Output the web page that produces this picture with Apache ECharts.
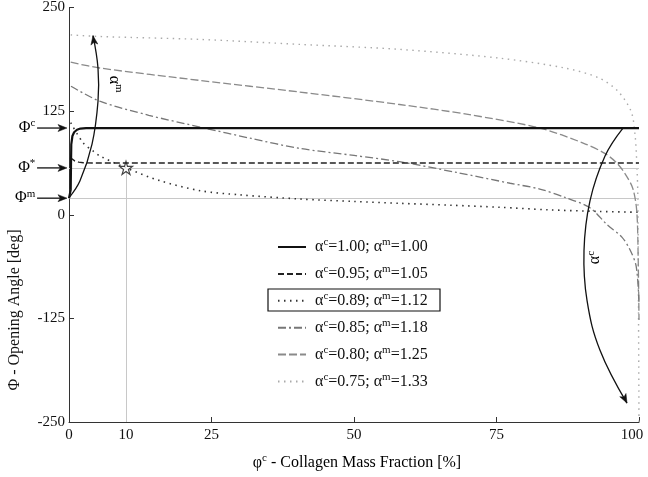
<!DOCTYPE html>
<html><head><meta charset="utf-8">
<script src="https://cdn.jsdelivr.net/npm/echarts@6/dist/echarts.min.js"></script>
<style>html,body{margin:0;padding:0;background:#fff}#c{width:648px;height:477px}</style>
</head><body><div id="c"></div>
<script>
// ---- data ----
const xTicks = [0, 10, 25, 50, 75, 100];
const yTicks = [-250, -125, 0, 125, 250];
const alphaC = ['1.00', '0.95', '0.89', '0.85', '0.80', '0.75'];
const alphaM = ['1.00', '1.05', '1.12', '1.18', '1.25', '1.33'];

const s1x = [0, 0.3, 0.35, 0.4, 0.6, 0.9, 1.4, 2, 3, 5, 100];
const s1y = [20, 30, 60, 85, 95, 99.5, 102.5, 104, 104.6, 104.6, 104.6];

const s2x = [0.2, 0.5, 1, 1.7, 2.5, 4, 100];
const s2y = [69, 67, 65, 63.5, 62.7, 62.5, 62.5];

const s3x = [0.3, 2.5, 4.2, 5.4, 10, 16, 23, 30, 40.5, 50, 58, 67, 75.6, 84, 93, 100];
const s3y = [111, 86.5, 77, 71, 56.5, 41, 29, 24, 19, 16, 13.8, 11.5, 9, 6, 4, 3];

const s4x = [0.35, 5.4, 14, 23.5, 32, 40.5, 50, 58, 68, 77.4, 82.6, 87, 91.4, 94.4, 97, 98.4, 99.5, 100];
const s4y = [155, 137, 120, 105, 92, 80, 71.5, 64, 51, 38, 31, 21, 8.4, -12, -27, -42, -62, -105];

const s5x = [0.3, 5.4, 23, 40.5, 58, 70, 82.6, 90.2, 94, 96.1, 97.5, 98.9, 99.6, 99.85, 100];
const s5y = [184, 177, 162, 148, 133, 121, 104.6, 86.5, 74, 62.5, 50, 32, 5, -50, -127];

const s6x = [0.3, 5.4, 23, 40.5, 58, 75.4, 87, 93, 96.3, 98.6, 99.3, 99.65, 99.8, 99.9, 100];
const s6y = [217, 215, 211.5, 205.5, 199.5, 189, 177, 165, 149, 125, 97, 56, 20, -100, -250];

const phiC = 104.6, phiStar = 56.5, phiM = 20, starX = 10;

// annotation curves (data coordinates)
const arrowMx = [0, 1.93, 4.04, 5.09, 5.09, 4.21];
const arrowMy = [20.4, 40.9, 85.3, 137, 176.7, 216];
const arrowCx = [97.19, 94.04, 91.40, 90.35, 90.88, 93.16, 97.89];
const arrowCy = [104.6, 70.9, 16.8, -43.3, -103.4, -163.5, -227.2];

// ---- chart ----
const FONT = "'Liberation Serif', 'Times New Roman', serif";
const TXT = '#111';
const names = alphaC.map((c, i) => 'αc=' + c + '; αm=' + alphaM[i]);
const zip = (xs, ys) => xs.map((x, i) => [x, ys[i]]);
const styles = [
  {color: '#111', width: 2.2, type: 'solid'},
  {color: '#222', width: 1.4, type: [6, 3]},
  {color: '#333', width: 1.6, type: [1.5, 4.5]},
  {color: '#777', width: 1.3, type: [8, 3, 2, 3]},
  {color: '#8a8a8a', width: 1.3, type: [8, 3]},
  {color: '#aaa', width: 1.4, type: [1.5, 4.5]}
];
const allData = [zip(s1x, s1y), zip(s2x, s2y), zip(s3x, s3y), zip(s4x, s4y), zip(s5x, s5y), zip(s6x, s6y)];

const rich = {
  a: {fontFamily: FONT, fontSize: 16, color: TXT, lineHeight: 20},
  s: {fontFamily: FONT, fontSize: 11, color: TXT, verticalAlign: 'top'}
};

const chart = echarts.init(document.getElementById('c'));
const series = allData.map((d, i) => ({
  name: names[i], type: 'line', data: d, symbol: 'none', smooth: i === 0 || i === 1 ? false : 0.3,
  clip: false, z: 3 + (6 - i),
  lineStyle: {color: styles[i].color, width: styles[i].width, type: styles[i].type, cap: 'butt'},
  itemStyle: {color: styles[i].color}
}));
series.push({
  name: 'ref', type: 'line', data: [], z: 1, silent: true,
  markLine: {
    silent: true, symbol: 'none', label: {show: false},
    lineStyle: {color: '#c8c8c8', width: 1, type: 'solid'},
    data: [
      {yAxis: phiStar}, {yAxis: phiM},
      [{coord: [starX, -250]}, {coord: [starX, phiStar]}]
    ]
  }
});
series.push({
  name: 'star', type: 'scatter', z: 20, data: [[starX, phiStar]],
  symbol: 'path://M50,0 L61,35 L98,35 L68,57 L79,91 L50,70 L21,91 L32,57 L2,35 L39,35 Z',
  symbolSize: 13,
  itemStyle: {color: '#fff', borderColor: '#111', borderWidth: 1.2}
});

chart.setOption({
  backgroundColor: '#fff',
  animation: false,
  grid: {left: 69, right: 9, top: 6, bottom: 55},
  xAxis: {
    type: 'value', min: 0, max: 100,
    axisLine: {onZero: false, lineStyle: {color: '#333', width: 1}},
    axisTick: {inside: true, length: 5, customValues: xTicks, lineStyle: {color: '#333'}},
    axisLabel: {customValues: xTicks, fontFamily: FONT, fontSize: 15, color: TXT, margin: 6,
      formatter: v => v === 100 ? '{r|100}' : String(v),
      rich: {r: {fontFamily: FONT, fontSize: 15, color: TXT, padding: [0, 14, 0, 0]}}},
    splitLine: {show: false}
  },
  yAxis: {
    type: 'value', min: -250, max: 250, interval: 125,
    axisLine: {show: true, onZero: false, lineStyle: {color: '#333', width: 1}},
    axisTick: {show: true, inside: true, length: 5, lineStyle: {color: '#333'}},
    axisLabel: {fontFamily: FONT, fontSize: 15, color: TXT, margin: 4},
    splitLine: {show: false}
  },
  legend: {
    data: names, orient: 'vertical', left: 277, top: 237, padding: 0,
    itemWidth: 28, itemHeight: 14, itemGap: 8.9, selectedMode: false,
    itemStyle: {opacity: 0},
    textStyle: {rich: rich, padding: [0, 0, 0, 4]},
    formatter: name => {
      const i = names.indexOf(name);
      return '{a|α}{s|c}{a|=' + alphaC[i] + '; α}{s|m}{a|=' + alphaM[i] + '}';
    }
  },
  series: series
});

// ---- annotations ----
const P = p => chart.convertToPixel({seriesIndex: 0}, p);
const g = [];
function arrowHead(tip, from, len, hw) {
  const dx = tip[0] - from[0], dy = tip[1] - from[1];
  const L = Math.hypot(dx, dy), ux = dx / L, uy = dy / L;
  const bx = tip[0] - ux * len, by = tip[1] - uy * len;
  const ix = tip[0] - ux * len * 0.75, iy = tip[1] - uy * len * 0.75;
  g.push({type: 'polygon', z: 30, shape: {points: [tip, [bx - uy * hw, by + ux * hw], [ix, iy], [bx + uy * hw, by - ux * hw]]},
    style: {fill: '#111', stroke: '#111', lineWidth: 0.5}});
  return [ix, iy];
}
function curveArrow(xs, ys) {
  const pts = xs.map((x, i) => P([x, ys[i]]));
  const n = pts.length;
  arrowHead(pts[n - 1], pts[n - 2], 9, 3.5);
  g.push({type: 'polyline', z: 29, shape: {points: pts, smooth: 0.4}, style: {stroke: '#111', lineWidth: 1.3, fill: null}});
}
curveArrow(arrowMx, arrowMy);
curveArrow(arrowCx, arrowCy);

// left-side phi markers
[[phiC, 'c'], [phiStar, '*'], [phiM, 'm']].forEach(([v, sup]) => {
  const tip = P([-0.35, v]), tail = P([-5.6, v]);
  const base = arrowHead(tip, tail, 9, 3.5);
  g.push({type: 'line', z: 29, shape: {x1: tail[0], y1: tail[1], x2: base[0], y2: base[1]}, style: {stroke: '#111', lineWidth: 1.3}});
  const tp = P([-5.9, v]);
  g.push({type: 'text', z: 30, x: tp[0], y: tp[1], style: {text: '{a|Φ}{s|' + sup + '}', rich: rich, align: 'right', verticalAlign: 'middle'}});
});

// rotated alpha labels
const lm = P([7.9, 157.5]);
g.push({type: 'text', z: 30, x: lm[0], y: lm[1], rotation: -Math.PI / 2,
  style: {text: '{a|α}{s|m}', rich: rich, align: 'center', verticalAlign: 'middle'}});
const lc = P([92.3, -51.7]);
g.push({type: 'text', z: 30, x: lc[0], y: lc[1], rotation: Math.PI / 2,
  style: {text: '{a|α}{s|c}', rich: rich, align: 'center', verticalAlign: 'middle'}});

// legend highlight box
g.push({type: 'rect', z: 30, shape: {x: 268, y: 289, width: 172, height: 22},
  style: {fill: null, stroke: '#111', lineWidth: 1.2}});

// axis titles
g.push({type: 'text', z: 30, x: 15, y: 310, rotation: Math.PI / 2,
  style: {text: 'Φ - Opening Angle [deg]', font: '16px ' + FONT, fill: TXT, align: 'center', verticalAlign: 'middle'}});
g.push({type: 'text', z: 30, x: 357, y: 463,
  style: {text: '{a|φ}{s|c}{a| - Collagen Mass Fraction [%]}', rich: rich, align: 'center', verticalAlign: 'middle'}});

chart.setOption({graphic: g});
</script>
</body></html>
